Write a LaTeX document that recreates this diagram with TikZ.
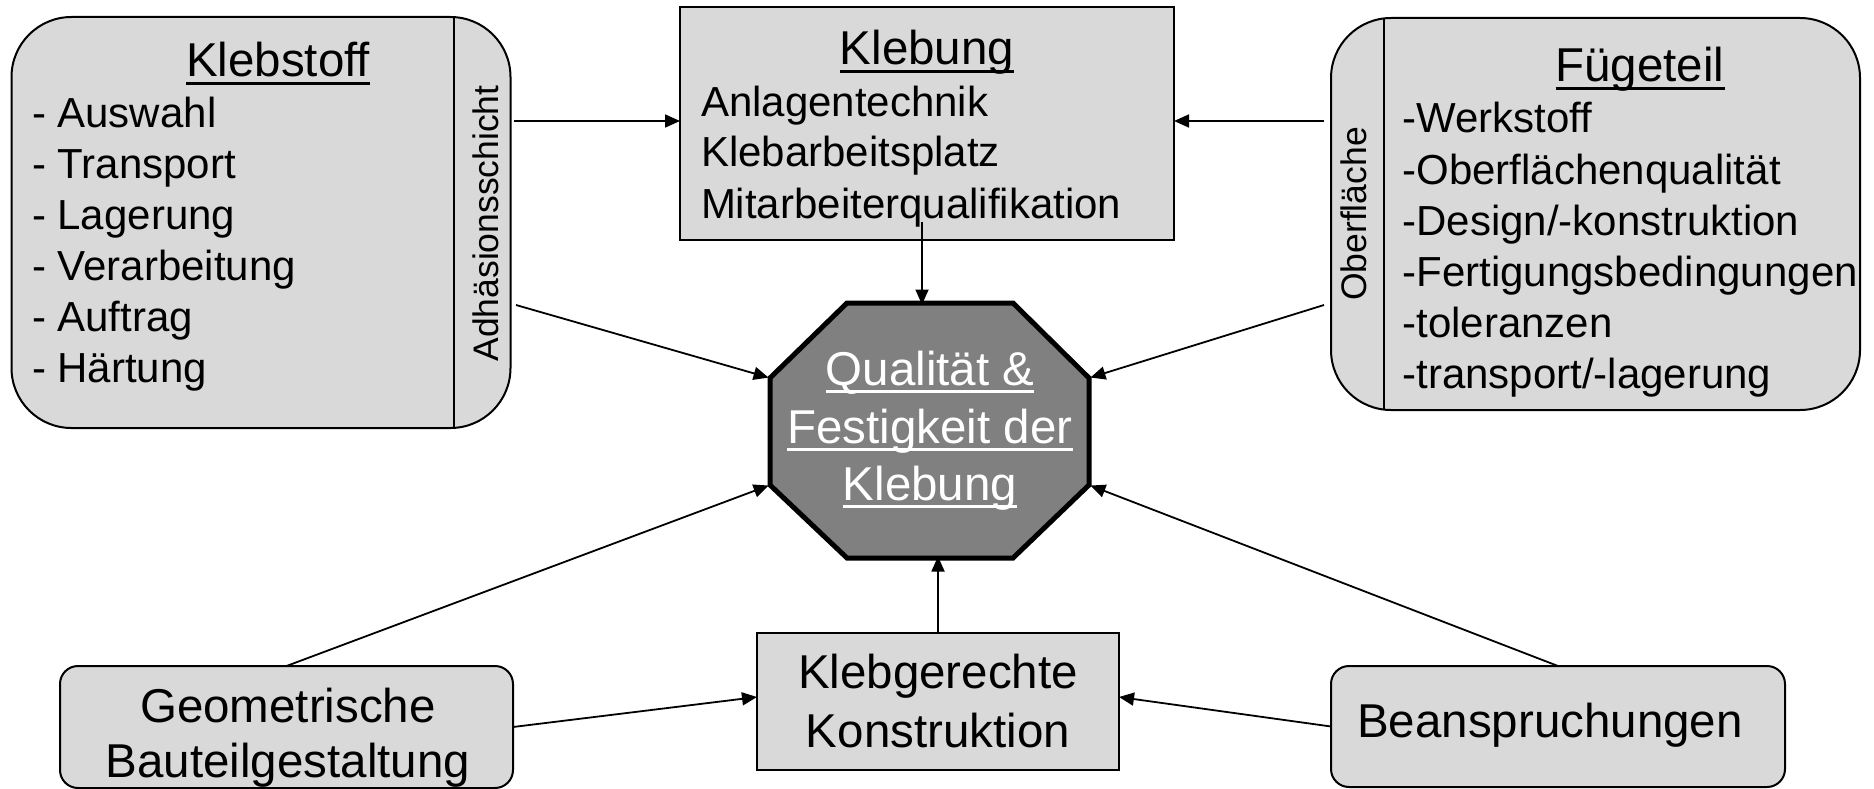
\documentclass[tikz,border=0pt]{standalone}
\usepackage{fontspec}
\setmainfont{Liberation Sans}
\usetikzlibrary{arrows.meta}
\definecolor{boxgray}{HTML}{D9D9D9}
\definecolor{octgray}{HTML}{808080}
\newsavebox{\myulbox}
\newcommand\myul[1]{\sbox\myulbox{#1}\rlap{\rule[-8pt]{\wd\myulbox}{3pt}}\usebox\myulbox}
\begin{document}
\begin{tikzpicture}[x=1pt,y=-1pt,
  boxbase/.style={draw=black, line width=2pt, fill=boxgray, inner sep=0pt, outer sep=0pt},
  divline/.style={draw=black, line width=2pt},
  txt/.style={inner sep=0pt, outer sep=0pt, anchor=base west, font=\fontsize{42}{50}\selectfont},
  ttl/.style={inner sep=0pt, outer sep=0pt, anchor=base, font=\fontsize{47.5}{57}\selectfont},
  side/.style={inner sep=0pt, outer sep=0pt, rotate=90, anchor=base, font=\fontsize{35.5}{42}\selectfont},
  arr/.style={draw=black, line width=1.8pt, -{Triangle[length=15pt,width=13pt]}},
  octa/.style={draw=black, line width=5pt, fill=octgray, line join=miter}
]
\useasboundingbox (0,0) rectangle (1874,789);

% Klebstoff
\node[boxbase, rounded corners=60pt, minimum width=499pt, minimum height=411pt] (kst) at (261,222.5) {};
\draw[divline] (454,17) -- (454,428);
\node[ttl] (kstT) at (278,77) {\myul{Klebstoff}};
\foreach \t [count=\i] in {Auswahl,Transport,Lagerung,Verarbeitung,Auftrag,Härtung}
  \node[txt] (kstL\i) at (32,{128+50.8*(\i-1)}) {- \t};
\node[side] (kstS) at (498,223.5) {Adhäsionsschicht};

% Klebung
\node[boxbase, minimum width=494pt, minimum height=233pt] (kbg) at (927,123.5) {};
\node[ttl] (kbgT) at (927,65) {\myul{Klebung}};
\node[txt] (kbgL1) at (701,117) {Anlagentechnik};
\node[txt] (kbgL2) at (701,167) {Klebarbeitsplatz};
\node[txt] (kbgL3) at (701,218) {Mitarbeiterqualifikation};

% Fuegeteil
\node[boxbase, rounded corners=60pt, minimum width=529pt, minimum height=392pt] (fgt) at (1595.5,214) {};
\draw[divline] (1384,18) -- (1384,410);
\node[ttl] (fgtT) at (1640,82) {\myul{Fügeteil}};
\foreach \t [count=\i] in {{-Werkstoff},{-Oberflächenqualität},{-Design/-konstruktion},{-Fertigungsbedingungen},{-toleranzen},{-transport/-lagerung}}
  \node[txt] (fgtL\i) at (1402.5,{133+51*(\i-1)}) {\t};
\node[side] (fgtS) at (1366,214) {Oberfläche};

% bottom boxes
\node[boxbase, rounded corners=18pt, minimum width=453pt, minimum height=122pt] (geo) at (286.5,727) {};
\node[ttl] (geoT1) at (288,722) {Geometrische};
\node[ttl] (geoT2) at (288,777) {Bauteilgestaltung};

\node[boxbase, minimum width=362pt, minimum height=137pt] (kon) at (938,701.5) {};
\node[ttl] (konT1) at (938,688) {Klebgerechte};
\node[ttl] (konT2) at (938,747) {Konstruktion};

\node[boxbase, rounded corners=18pt, minimum width=454pt, minimum height=121pt] (bea) at (1558,726.5) {};
\node[ttl] (beaT) at (1550,737) {Beanspruchungen};

% octagon
\coordinate (o1) at (847,303);
\coordinate (o2) at (1013,303);
\coordinate (o3) at (1089,378);
\coordinate (o4) at (1089,485);
\coordinate (o5) at (1013,558);
\coordinate (o6) at (847,558);
\coordinate (o7) at (770,485);
\coordinate (o8) at (770,378);
\draw[octa] (o1) -- (o2) -- (o3) -- (o4) -- (o5) -- (o6) -- (o7) -- (o8) -- cycle;
\node[ttl, text=white] (q1) at (930,385) {\myul{Qualität \&}};
\node[ttl, text=white] (q2) at (930,443) {\myul{Festigkeit der}};
\node[ttl, text=white] (q3) at (930,500) {\myul{Klebung}};

% connector ends
\coordinate (kstA) at (514,121);
\coordinate (fgtA) at (1324,121);
\coordinate (kstB) at (516,305);
\coordinate (fgtB) at (1324,305);
\coordinate (kbgD) at (922,222);

% connectors
\draw[arr] (kstA) -- (kstA -| kbg.west);
\draw[arr] (fgtA) -- (fgtA -| kbg.east);
\draw[arr, shorten >=1.5pt] (kstB) -- (o8);
\draw[arr, shorten >=1.5pt] (fgtB) -- (o3);
\draw[arr, shorten >=-1.5pt] (kbgD) -- (kbgD |- o1);
\draw[arr, shorten >=-1.5pt] (kon.north) -- (kon.north |- o5);
\draw[arr, shorten >=1.5pt] (geo.north) -- (o7);
\draw[arr, shorten >=1.5pt] (bea.north) -- (o4);
\draw[arr] (geo.east) -- ([yshift=4.5pt]kon.west);
\draw[arr] (bea.west) -- ([yshift=4.5pt]kon.east);
\end{tikzpicture}
\end{document}
